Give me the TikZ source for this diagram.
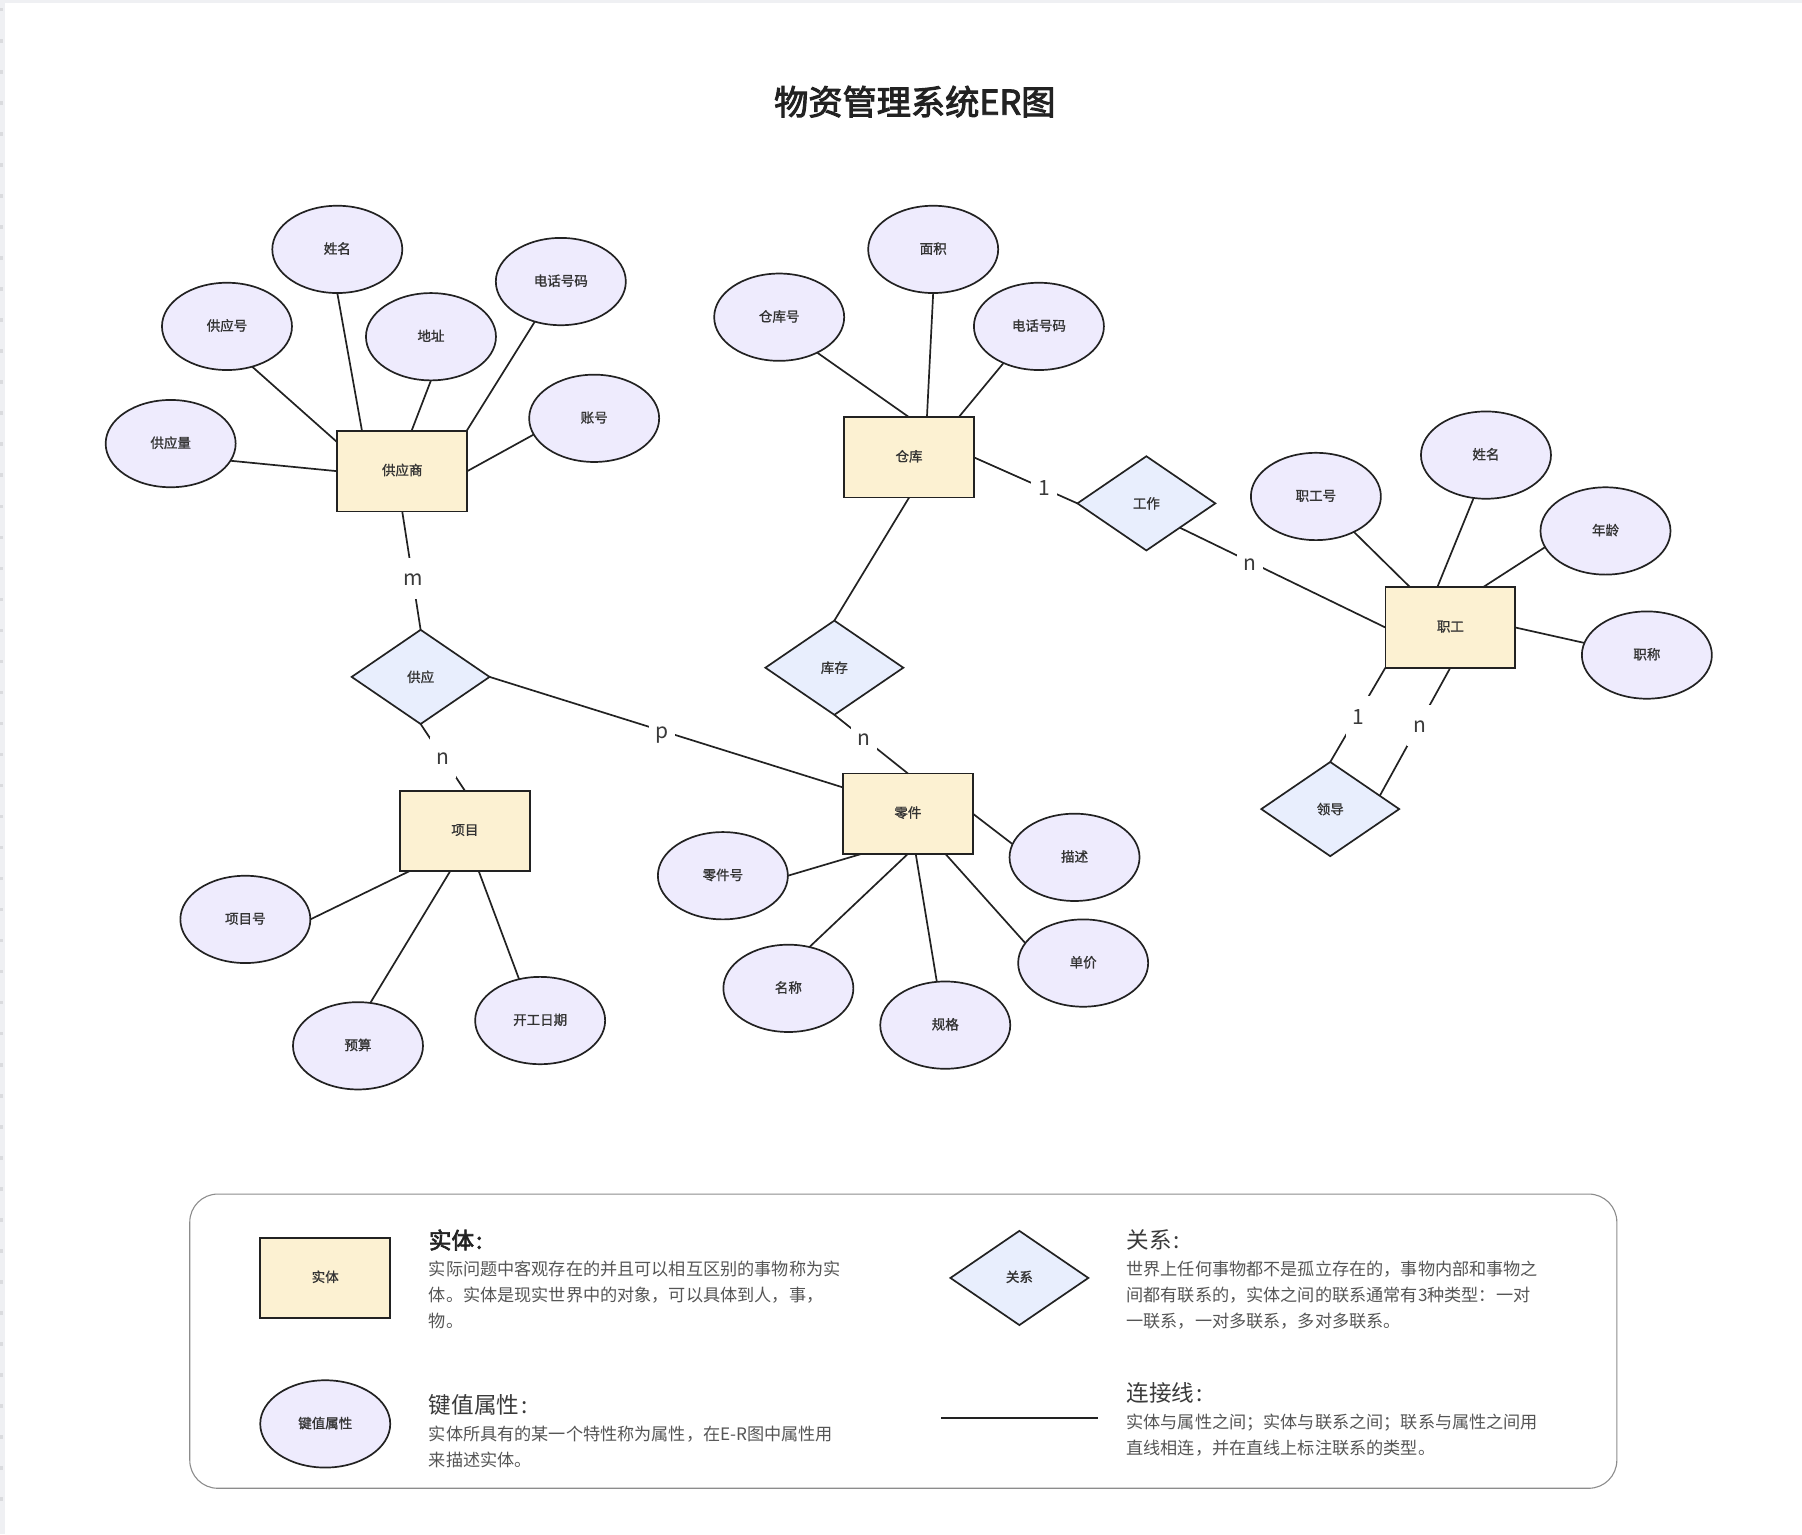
\documentclass[tikz,border=0pt]{standalone}
\usepackage{fontspec}
\usetikzlibrary{shapes.geometric}
\setmainfont{Noto Sans CJK SC}
\newfontfamily\medfont[FakeBold=1.2]{Noto Sans CJK SC}
\newfontfamily\headfont[FakeBold=2.8]{Noto Sans CJK SC}
\newcommand\zc{\char"FF0C\relax}
\newcommand\zf{\char"FF1B\relax}
\newcommand\zm{\char"FF1A\relax}
\definecolor{entfill}{HTML}{FCF1D2}
\definecolor{attrfill}{HTML}{EEEBFD}
\definecolor{relfill}{HTML}{E8EEFD}
\definecolor{inkline}{HTML}{222222}
\definecolor{shapetext}{HTML}{333333}
\definecolor{bodytext}{HTML}{555555}
\definecolor{headtext}{HTML}{3A3A3A}
\definecolor{framegray}{HTML}{8C8C8C}
\definecolor{stripgray}{HTML}{EFF0F3}
\definecolor{tickgray}{HTML}{DADBDE}
\tikzset{
  shapebase/.style={draw=inkline,line width=1.7pt,inner sep=0pt,outer sep=0pt,text=shapetext,font=\medfont\fontsize{13.5}{15}\selectfont},
  entity/.style={shapebase,rectangle,fill=entfill,minimum width=129.9pt,minimum height=80.4pt,text height=9.6pt,text depth=1.6pt},
  attr/.style={shapebase,ellipse,fill=attrfill,minimum width=130pt,minimum height=87.3pt,text height=10.2pt,text depth=1.6pt},
  rel/.style={shapebase,diamond,fill=relfill,minimum width=137.9pt,minimum height=94.2pt},
  conn/.style={draw=inkline,line width=1.7pt},
  card/.style={fill=white,inner sep=0pt,outer sep=0pt,minimum width=26pt,minimum height=41pt,text height=18pt,text depth=3pt,xshift=1pt,text=headtext,font=\fontsize{21}{24}\selectfont},
  legbody/.style={anchor=north west,inner sep=0pt,align=left,text=bodytext,font=\fontsize{17.15}{25.9}\selectfont},
  leghead/.style={anchor=west,inner sep=0pt,text=headtext,font=\fontsize{22.6}{26}\selectfont},
}
\begin{document}
\begin{tikzpicture}[x=1.1492pt,y=-1.1492pt]
\useasboundingbox (0,0) rectangle (1568,1335);
% screenshot edge
\fill[stripgray] (0,0) rectangle (1568,3);
\fill[stripgray] (0,0) rectangle (4,1335);
\foreach \yy in {7,34,61,88,115,142,169,196,223,250,277,304,331,358,385,412,439,466,493,520,547,574,601,628,655,682,709,736,763,790,817,844,871,898,925,952,979,1006,1033,1060,1087,1114,1141,1168,1195,1222,1249,1276,1303}
  \fill[tickgray] (0,\yy) rectangle (3,\yy+3);

\node[font=\headfont\fontsize{34.2}{40}\selectfont,text=inkline,inner sep=0pt] (title) at (796,88.5) {物资管理系统ER图};

% entities
\node[entity] (sup) at (350,410) {供应商};
\node[entity] (wh) at (791,398) {仓库};
\node[entity] (emp) at (1262,546) {职工};
\node[entity] (prj) at (404.5,723) {项目};
\node[entity] (part) at (790,708) {零件};
% relationships
\node[rel] (rsup) at (366,589) {供应};
\node[rel] (rsto) at (726,581) {库存};
\node[rel] (rwork) at (997.5,438) {工作};
\node[rel] (rlead) at (1157.5,704) {领导};
% attributes
\node[attr] (a1) at (293.5,217) {姓名};
\node[attr] (a2) at (197.5,284) {供应号};
\node[attr] (a3) at (375,293) {地址};
\node[attr] (a4) at (488,245) {电话号码};
\node[attr] (a5) at (517,364) {账号};
\node[attr] (a6) at (148.5,386) {供应量};
\node[attr] (b1) at (812,217) {面积};
\node[attr] (b2) at (678,276) {仓库号};
\node[attr] (b3) at (904,284) {电话号码};
\node[attr] (c1) at (1145,432) {职工号};
\node[attr] (c2) at (1293,396) {姓名};
\node[attr] (c3) at (1397,462) {年龄};
\node[attr] (c4) at (1433,570) {职称};
\node[attr] (d1) at (213.5,800) {项目号};
\node[attr] (d2) at (311.5,910) {预算};
\node[attr] (d3) at (470,888) {开工日期};
\node[attr] (e1) at (629,762) {零件号};
\node[attr] (e2) at (686,860) {名称};
\node[attr] (e3) at (822.5,892) {规格};
\node[attr] (e4) at (942.5,838) {单价};
\node[attr] (e5) at (935,746) {描述};

% attribute connectors
\draw[conn] (a6.-16) -- (sup.180);
\draw[conn] (a2.-58) -- (sup.156.3);
\draw[conn] (a1.-90) -- (sup.135.8);
\draw[conn] (a3.-90) -- (sup.77);
\draw[conn] (a4.237) -- (sup.32.5);
\draw[conn] (a5.195) -- (sup.0);
\draw[conn] (b1.-90) -- (wh.66.8);
\draw[conn] (b2.-43.2) -- (wh.north);
\draw[conn] (b3.226.8) -- (wh.39.1);
\draw[conn] (c1.-43) -- (emp.135);
\draw[conn] (c2.254) -- (emp.108.9);
\draw[conn] (c3.195.4) -- (emp.51.3);
\draw[conn] (c4.169.7) -- (emp.0);
\draw[conn] (d1.0) -- (prj.216.4);
\draw[conn] (d2.74.6) -- (prj.250.3);
\draw[conn] (d3.117.2) -- (prj.289.7);
\draw[conn] (e1.0) -- (part.221.2);
\draw[conn] (e2.63.4) -- (part.south);
\draw[conn] (e3.101) -- (part.281.3);
\draw[conn] (e4.161.7) -- (part.313.3);
\draw[conn] (e5.168.5) -- (part.0);

% relationship connectors
\draw[conn] (sup.south) -- node[card,pos=.563] {m} (rsup.north);
\draw[conn] (rsup.south) -- node[card,pos=.5,xshift=-1pt] {n} (prj.north);
\draw[conn] (rsup.east) -- node[card,pos=.485] {p} (part.158.9);
\draw[conn] (wh.south) -- (rsto.north);
\draw[conn] (rsto.south) -- node[card,pos=.39] {n} (part.north);
\draw[conn] (wh.east) -- node[card,pos=.67] {1} (rwork.west);
\draw[conn] (rwork.-36.7) -- node[card,pos=.335,yshift=-2pt] {n} (emp.west);
\draw[conn] (emp.south west) -- node[card,pos=.52,xshift=1pt] {1} (rlead.north);
\draw[conn] (emp.south) -- node[card,pos=.45] {n} (rlead.15.6);

% legend
\node[draw=framegray,line width=1.1pt,rounded corners=28pt,minimum width=1427pt,minimum height=294.2pt,inner sep=0pt,outer sep=0pt] (legend) at (786,1167) {};
\node[entity] (lent) at (283,1112) {实体};
\node[attr] (lattr) at (283,1239) {键值属性};
\node[rel,text height=9.6pt,text depth=1.6pt] (lrel) at (887,1112) {关系};
\coordinate (lline1) at (819,1234);
\coordinate (lline2) at (955,1234);
\draw[conn] (lline1) -- (lline2);

\node[leghead,text=inkline,font=\headfont\fontsize{22.6}{26}\selectfont] (h1) at (373,1079) {实体\kern2pt:};
\node[leghead] (h2) at (980,1079) {关系\kern2pt:};
\node[leghead] (h3) at (373,1222.5) {键值属性\kern2pt:};
\node[leghead] (h4) at (980,1212) {连接线\kern2pt:};

\node[legbody] (t1) at (373,1097) {实际问题中客观存在的并且可以相互区别的事物称为实\\体。实体是现实世界中的对象\zc 可以具体到人\zc 事\zc\\物。};
\node[legbody] (t2) at (980,1097) {世界上任何事物都不是孤立存在的\zc 事物内部和事物之\\间都有联系的\zc 实体之间的联系通常有3种类型\zm 一对\\一联系\zc 一对多联系\zc 多对多联系。};
\node[legbody] (t3) at (373,1241) {实体所具有的某一个特性称为属性\zc 在E-R图中属性用\\来描述实体。};
\node[legbody] (t4) at (980,1230) {实体与属性之间\zf 实体与联系之间\zf 联系与属性之间用\\直线相连\zc 并在直线上标注联系的类型。};
\end{tikzpicture}
\end{document}
